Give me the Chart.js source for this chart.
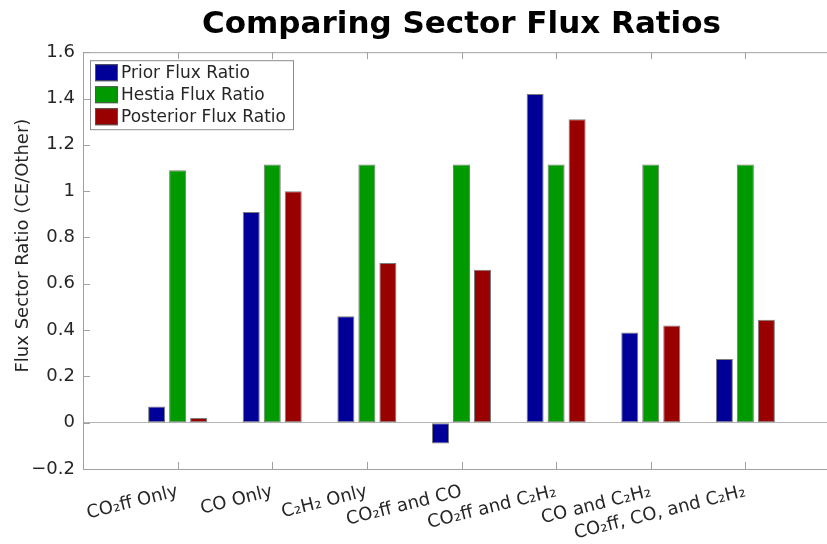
<!DOCTYPE html>
<html><head><meta charset="utf-8">
<script src="https://cdn.jsdelivr.net/npm/chart.js@4/dist/chart.umd.min.js"></script>
<style>
html,body{margin:0;padding:0;overflow:hidden;background:#fff;width:827px;height:544px}
#wrap{position:relative;width:842px;height:544px}
</style>
</head><body><div id="wrap"><canvas id="c"></canvas></div>
<script>
const categories = ['CO\u2082ff Only','CO Only','C\u2082H\u2082 Only','CO\u2082ff and CO','CO\u2082ff and C\u2082H\u2082','CO and C\u2082H\u2082','CO\u2082ff, CO, and C\u2082H\u2082'];
const priorRatio = [0.07, 0.91, 0.46, -0.09, 1.42, 0.39, 0.275];
const hestiaRatio = [1.09, 1.115, 1.115, 1.115, 1.115, 1.115, 1.115];
const posteriorRatio = [0.02, 1.00, 0.69, 0.66, 1.31, 0.42, 0.445];
const seriesNames = ['Prior Flux Ratio','Hestia Flux Ratio','Posterior Flux Ratio'];
const seriesColors = ['#000099','#009900','#990000'];
const yMin = -0.2, yMax = 1.6, yStep = 0.2;
const titleText = 'Comparing Sector Flux Ratios';
const yTitle = 'Flux Sector Ratio (CE/Other)';

const pad = a => [null, ...a, null];
const labels = ['', ...categories, ''];
const FONT = "'DejaVu Sans', sans-serif";
const AXIS = '#a0a0a0';

const frame = {
  id: 'frame',
  beforeDatasetsDraw(chart) {
    const {ctx, chartArea: a, scales: {x, y}} = chart;
    ctx.save();
    ctx.strokeStyle = AXIS; ctx.lineWidth = 1;
    ctx.beginPath();
    ctx.moveTo(a.left, a.top + 0.5); ctx.lineTo(a.right, a.top + 0.5);
    for (let i = 1; i <= categories.length; i++) {
      const px = Math.round(x.getPixelForValue(i)) + 0.5;
      ctx.moveTo(px, a.bottom); ctx.lineTo(px, a.bottom - 7);
      ctx.moveTo(px, a.top); ctx.lineTo(px, a.top + 7);
    }
    y.ticks.forEach(t => {
      const py = Math.round(y.getPixelForValue(t.value)) + 0.5;
      ctx.moveTo(a.left, py); ctx.lineTo(a.left + 7, py);
    });
    ctx.stroke();
    ctx.restore();
  },
  afterDraw(chart) {
    const {ctx, chartArea: a} = chart;
    ctx.save();
    ctx.translate(23, (a.top + a.bottom) / 2 - 15);
    ctx.rotate(-Math.PI / 2);
    ctx.font = "18px " + FONT;
    ctx.fillStyle = '#262626';
    ctx.textAlign = 'center';
    ctx.textBaseline = 'middle';
    ctx.fillText(yTitle, 0, 0);
    ctx.restore();
  }
};

const legendBox = {
  id: 'legendBox',
  afterDraw(chart) {
    const {ctx, chartArea: a} = chart;
    const bx = a.left + 7, by = a.top + 8, bw = 203, bh = 69;
    ctx.save();
    ctx.fillStyle = '#fff'; ctx.fillRect(bx, by, bw, bh);
    ctx.strokeStyle = '#8c8c8c'; ctx.lineWidth = 1;
    ctx.strokeRect(bx + 0.5, by + 0.5, bw, bh);
    ctx.font = "17px " + FONT;
    ctx.textBaseline = 'middle';
    chart.data.datasets.forEach((ds, i) => {
      const ry = by + 4 + i * 22;
      ctx.fillStyle = ds.backgroundColor;
      ctx.fillRect(bx + 5, ry, 23, 17);
      ctx.strokeStyle = '#555'; ctx.strokeRect(bx + 5.5, ry + 0.5, 22, 16);
      ctx.fillStyle = '#262626';
      ctx.fillText(ds.label, bx + 31, ry + 9);
    });
    ctx.restore();
  }
};

new Chart(document.getElementById('c'), {
  type: 'bar',
  data: {
    labels: labels,
    datasets: [priorRatio, hestiaRatio, posteriorRatio].map((d, i) => ({
      label: seriesNames[i],
      data: pad(d),
      backgroundColor: seriesColors[i],
      borderColor: 'rgba(110,110,110,0.9)',
      borderWidth: 1,
      borderSkipped: false,
      categoryPercentage: 0.666,
      barPercentage: 0.81
    }))
  },
  options: {
    responsive: true,
    maintainAspectRatio: false,
    animation: false,
    layout: {padding: {left: 0, right: 2, top: 0, bottom: 0}},
    plugins: {
      legend: {display: false},
      tooltip: {enabled: false},
      title: {
        display: true, text: titleText, fullSize: false, color: '#000',
        font: {family: FONT, size: 31, weight: 'bold', lineHeight: 1.2},
        padding: {top: 6, bottom: 9}
      }
    },
    scales: {
      x: {
        offset: false,
        grid: {display: false, drawTicks: false},
        border: {display: true, color: AXIS, width: 1},
        ticks: {autoSkip: false, minRotation: 14, maxRotation: 14, padding: 12, color: '#262626',
                font: {family: FONT, size: 18}},
        afterFit: s => { s.height = 75; s.paddingLeft = 0; s.paddingRight = 0; }
      },
      y: {
        min: yMin, max: yMax,
        grid: {drawTicks: false, drawOnChartArea: true,
               color: c => (c.tick && Math.abs(c.tick.value) < 1e-9) ? '#b4b4b4' : 'rgba(0,0,0,0)'},
        border: {display: true, color: AXIS, width: 1},
        ticks: {stepSize: yStep, padding: 8, color: '#262626', font: {family: FONT, size: 18},
          callback: v => {
            const r = Math.round(v * 10) / 10;
            if (r === 0) return '0';
            if (r === 1) return '1';
            return (r < 0 ? '\u2212' : '') + Math.abs(r).toFixed(1);
          }},
        title: {display: false, text: yTitle},
        afterFit: s => { s.width = 83; }
      }
    }
  },
  plugins: [frame, legendBox]
});
</script>
</body></html>
